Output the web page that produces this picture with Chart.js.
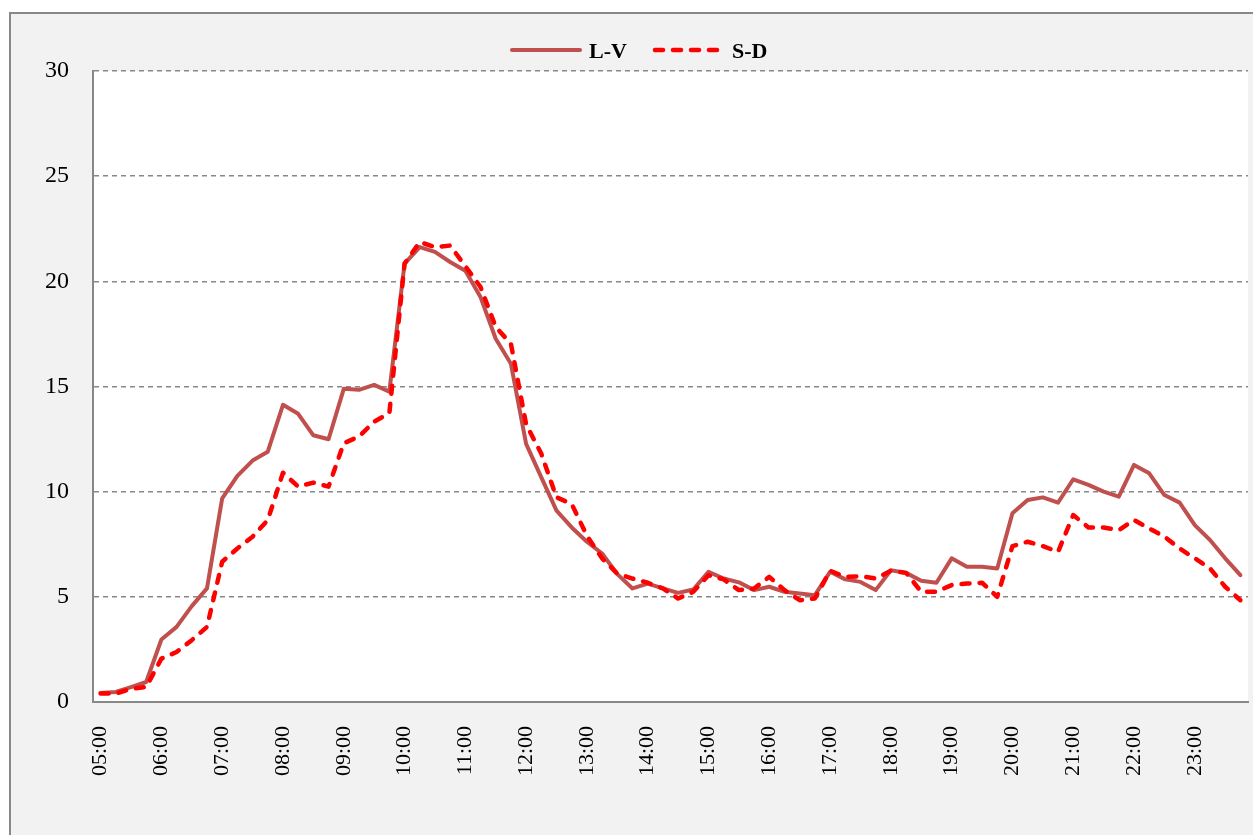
<!DOCTYPE html>
<html>
<head>
<meta charset="utf-8">
<script src="https://cdn.jsdelivr.net/npm/chart.js@4.4.0/dist/chart.umd.min.js"></script>
<style>
  html, body { margin: 0; padding: 0; background: #ffffff; }
  #wrap { width: 1253px; height: 835px; }
</style>
</head>
<body>
<div id="wrap"><canvas id="chart"></canvas></div>
<script>
// time of day, every 15 minutes
const times = [
  "05:00","05:15","05:30","05:45","06:00","06:15","06:30","06:45",
  "07:00","07:15","07:30","07:45","08:00","08:15","08:30","08:45",
  "09:00","09:15","09:30","09:45","10:00","10:15","10:30","10:45",
  "11:00","11:15","11:30","11:45","12:00","12:15","12:30","12:45",
  "13:00","13:15","13:30","13:45","14:00","14:15","14:30","14:45",
  "15:00","15:15","15:30","15:45","16:00","16:15","16:30","16:45",
  "17:00","17:15","17:30","17:45","18:00","18:15","18:30","18:45",
  "19:00","19:15","19:30","19:45","20:00","20:15","20:30","20:45",
  "21:00","21:15","21:30","21:45","22:00","22:15","22:30","22:45",
  "23:00","23:15","23:30","23:45"
];

// weekdays (L-V)
const lv = [
  0.43, 0.48, 0.71, 0.95, 2.97, 3.57, 4.56, 5.40,
  9.68, 10.75, 11.48, 11.9, 14.13, 13.7, 12.68, 12.49,
  14.89, 14.84, 15.08, 14.76, 20.84, 21.63, 21.4, 20.92,
  20.5, 19.25, 17.27, 16.08, 12.27, 10.68, 9.1, 8.3,
  7.62, 7.06, 6.08, 5.4, 5.63, 5.4, 5.19, 5.35,
  6.19, 5.87, 5.69, 5.32, 5.48, 5.24, 5.16, 5.08,
  6.19, 5.83, 5.71, 5.32, 6.26, 6.14, 5.76, 5.67,
  6.83, 6.43, 6.43, 6.35, 8.97, 9.6, 9.73, 9.48,
  10.59, 10.32, 10.0, 9.76, 11.27, 10.87, 9.84, 9.48,
  8.41, 7.7, 6.83, 6.03
];

// weekend (S-D)
const sd = [
  0.4, 0.4, 0.63, 0.71, 2.06, 2.38, 2.94, 3.57,
  6.67, 7.3, 7.86, 8.65, 10.9, 10.24, 10.43, 10.24,
  12.3, 12.62, 13.33, 13.73, 20.84, 21.87, 21.63, 21.7,
  20.72, 19.73, 17.83, 17.03, 13.2, 11.8, 9.73, 9.41,
  7.9, 6.83, 6.1, 5.87, 5.67, 5.4, 4.92, 5.24,
  6.03, 5.83, 5.32, 5.4, 5.95, 5.32, 4.84, 4.92,
  6.24, 5.95, 5.98, 5.87, 6.24, 6.14, 5.24, 5.24,
  5.56, 5.63, 5.67, 5.0, 7.41, 7.62, 7.41, 7.14,
  8.89, 8.3, 8.3, 8.17, 8.65, 8.25, 7.86, 7.3,
  6.83, 6.35, 5.48, 4.84
];

const seriesNames = ["L-V", "S-D"];

const fontFamily = "'Liberation Serif', 'Times New Roman', serif";

// grey frame + white plot area
const backdrop = {
  id: "backdrop",
  beforeDraw(chart) {
    const ctx = chart.ctx;
    const a = chart.chartArea;
    ctx.save();
    ctx.fillStyle = "#f2f2f2";
    ctx.fillRect(10, 13, chart.width, chart.height);
    ctx.strokeStyle = "#888888";
    ctx.lineWidth = 2;
    ctx.strokeRect(10, 13, chart.width + 20, chart.height + 20);
    ctx.fillStyle = "#ffffff";
    ctx.fillRect(a.left, a.top, a.right - a.left, a.bottom - a.top);
    ctx.restore();
  }
};

// legend drawn with the dataset styles
const lineLegend = {
  id: "lineLegend",
  afterDraw(chart) {
    const ctx = chart.ctx;
    const items = [
      { ds: chart.data.datasets[0], x: 512 },
      { ds: chart.data.datasets[1], x: 655 }
    ];
    ctx.save();
    ctx.font = "bold 22px " + fontFamily;
    ctx.textBaseline = "middle";
    ctx.fillStyle = "#000000";
    items.forEach(it => {
      ctx.beginPath();
      ctx.strokeStyle = it.ds.borderColor;
      ctx.lineWidth = it.ds.borderWidth;
      ctx.lineCap = "round";
      ctx.setLineDash(it.ds.borderDash || []);
      ctx.moveTo(it.x, 50);
      ctx.lineTo(it.x + 68, 50);
      ctx.stroke();
      ctx.setLineDash([]);
      ctx.fillText(it.ds.label, it.x + 77, 52);
    });
    ctx.restore();
  }
};

new Chart(document.getElementById("chart"), {
  type: "line",
  data: {
    labels: times,
    datasets: [
      {
        label: seriesNames[0],
        data: lv,
        borderColor: "#C0504D",
        borderWidth: 4,
        borderCapStyle: "round",
        borderJoinStyle: "round",
        pointRadius: 0,
        tension: 0,
        order: 1
      },
      {
        label: seriesNames[1],
        data: sd,
        borderColor: "#FF0000",
        borderWidth: 4.5,
        borderDash: [8, 10],
        borderCapStyle: "round",
        borderJoinStyle: "round",
        pointRadius: 0,
        tension: 0,
        order: 0
      }
    ]
  },
  options: {
    responsive: true,
    maintainAspectRatio: false,
    animation: false,
    layout: { padding: { top: 71, right: 5, bottom: 0, left: 0 } },
    plugins: {
      legend: { display: false },
      tooltip: { enabled: false }
    },
    scales: {
      x: {
        offset: true,
        grid: { display: false, drawTicks: false },
        border: { display: true, color: "#888888", width: 2 },
        ticks: {
          autoSkip: false,
          maxRotation: 90,
          minRotation: 90,
          padding: 24,
          color: "#000000",
          font: { family: fontFamily, size: 22 },
          callback: function (val) {
            const l = this.getLabelForValue(val);
            return l.endsWith(":00") ? l : "";
          }
        },
        afterFit: (scale) => {
          scale.height = 133;
          scale.paddingLeft = 0;
          scale.paddingRight = 0;
        }
      },
      y: {
        min: 0,
        max: 30,
        grid: { color: "#888888", lineWidth: 1.5, drawTicks: false },
        border: { display: true, color: "#888888", width: 2, dash: [5, 4] },
        ticks: {
          stepSize: 5,
          padding: 24,
          color: "#000000",
          font: { family: fontFamily, size: 24 }
        },
        afterFit: (scale) => { scale.width = 93; }
      }
    }
  },
  plugins: [backdrop, lineLegend]
});
</script>
</body>
</html>
